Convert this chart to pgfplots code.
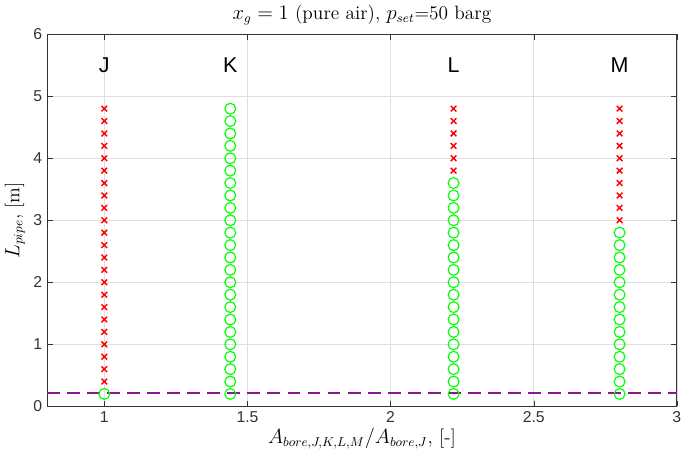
\documentclass[border=0pt]{standalone}
\usepackage{pgfplots}
\pgfplotsset{compat=1.18}
\usepackage{pgfplotstable}
\usepackage{fontspec}
\newfontfamily\helv{Liberation Sans}

% points that passed (circles) and failed (crosses)
\pgfplotstableread{
x y
1 0.2
1.44 0.2
1.44 0.4
1.44 0.6
1.44 0.8
1.44 1.0
1.44 1.2
1.44 1.4
1.44 1.6
1.44 1.8
1.44 2.0
1.44 2.2
1.44 2.4
1.44 2.6
1.44 2.8
1.44 3.0
1.44 3.2
1.44 3.4
1.44 3.6
1.44 3.8
1.44 4.0
1.44 4.2
1.44 4.4
1.44 4.6
1.44 4.8
2.22 0.2
2.22 0.4
2.22 0.6
2.22 0.8
2.22 1.0
2.22 1.2
2.22 1.4
2.22 1.6
2.22 1.8
2.22 2.0
2.22 2.2
2.22 2.4
2.22 2.6
2.22 2.8
2.22 3.0
2.22 3.2
2.22 3.4
2.22 3.6
2.8 0.2
2.8 0.4
2.8 0.6
2.8 0.8
2.8 1.0
2.8 1.2
2.8 1.4
2.8 1.6
2.8 1.8
2.8 2.0
2.8 2.2
2.8 2.4
2.8 2.6
2.8 2.8
}\passed

\pgfplotstableread{
x y
1 0.4
1 0.6
1 0.8
1 1.0
1 1.2
1 1.4
1 1.6
1 1.8
1 2.0
1 2.2
1 2.4
1 2.6
1 2.8
1 3.0
1 3.2
1 3.4
1 3.6
1 3.8
1 4.0
1 4.2
1 4.4
1 4.6
1 4.8
2.22 3.8
2.22 4.0
2.22 4.2
2.22 4.4
2.22 4.6
2.22 4.8
2.8 3.0
2.8 3.2
2.8 3.4
2.8 3.6
2.8 3.8
2.8 4.0
2.8 4.2
2.8 4.4
2.8 4.6
2.8 4.8
}\failed

\definecolor{dashpurple}{RGB}{140,20,150}
\definecolor{brightgreen}{rgb}{0,1,0}

\begin{document}
\begin{tikzpicture}
\begin{axis}[
  width=440pt, height=260pt,
  scale only axis,
  xmin=0.8, xmax=3, ymin=0, ymax=6,
  xtick={1,1.5,2,2.5,3},
  ytick={0,1,2,3,4,5,6},
  tick align=inside,
  major tick length=4pt,
  grid=major,
  grid style={gray!25, line width=0.4pt},
  axis line style={black!80, line width=0.5pt},
  tick style={black!80},
  /pgf/number format/assume math mode=true,
  ticklabel style={font=\helv\fontsize{11}{13}\selectfont, text=black!80},
  title={$x_g = 1$ (pure air), $p_{set}$=50 barg},
  title style={font=\fontsize{13.5}{15}\selectfont, yshift=-3pt},
  xlabel={$A_{bore,J,K,L,M}/A_{bore,J}$, [-]},
  ylabel={$L_{pipe}$, [m]},
  label style={font=\fontsize{13.5}{15}\selectfont},
  xlabel style={yshift=3pt},
  ylabel style={yshift=-1pt},
]
\addplot[only marks, mark=o, color=brightgreen,
  mark size=3.8pt, line width=0.8pt] table[x=x, y=y] {\passed};
\addplot[only marks, mark=x, color=red,
  mark size=2.8pt, line width=1pt] table[x=x, y=y] {\failed};
\addplot[draw=dashpurple, mark=none, line width=1.2pt, dash pattern=on 9pt off 5pt]
  coordinates {(0.8,0.21) (3,0.21)};
\node[font=\helv\fontsize{15}{17}\selectfont] at (axis cs:1,5.5) {J};
\node[font=\helv\fontsize{15}{17}\selectfont] at (axis cs:1.44,5.5) {K};
\node[font=\helv\fontsize{15}{17}\selectfont] at (axis cs:2.22,5.5) {L};
\node[font=\helv\fontsize{15}{17}\selectfont] at (axis cs:2.8,5.5) {M};
\end{axis}
\end{tikzpicture}
\end{document}
